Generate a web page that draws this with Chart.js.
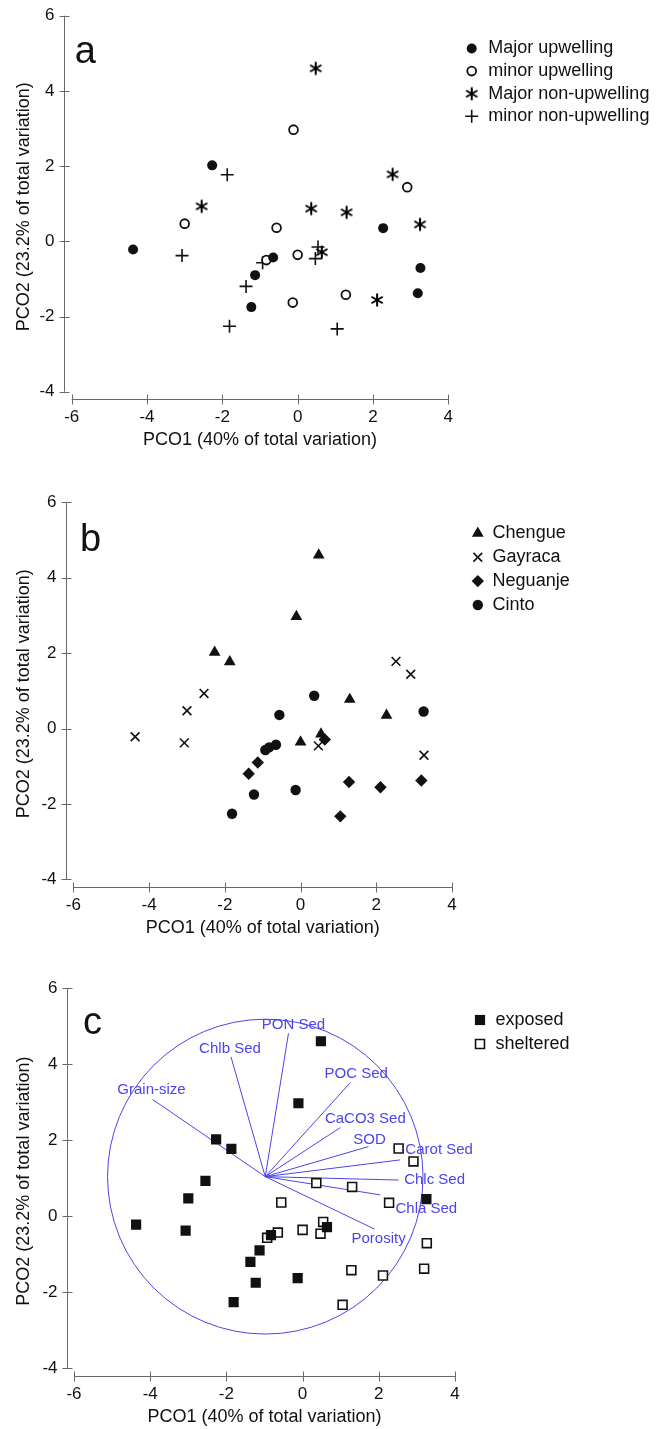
<!DOCTYPE html>
<html>
<head>
<meta charset="utf-8">
<script src="https://cdn.jsdelivr.net/npm/chart.js@4.4.1/dist/chart.umd.min.js"></script>
<style>
  html, body { margin: 0; padding: 0; background: #fff; }
  #page { position: relative; width: 661px; height: 1429px; }
  canvas { position: absolute; left: 0; }
</style>
</head>
<body>
<div id="page">
  <canvas id="panelA" width="661" height="470" style="top:0px"></canvas>
  <canvas id="panelB" width="661" height="490" style="top:470px"></canvas>
  <canvas id="panelC" width="661" height="469" style="top:960px"></canvas>
</div>
<script>
// PCO scores of the 32 samples (same samples in all three panels)
const pco1 = [-4.37, -2.27, -1.13, -1.23, -0.65, 2.27, 3.26, 3.19,
              -0.11, 2.91, -3.00, -0.56, 0.00, -0.83, -0.13, 1.28,
              0.48, 2.52, -2.55, 0.36, 1.30, 3.25, 0.64, 2.11,
              -1.87, -3.07, 0.54, 0.47, -0.93, -1.37, -1.81, 1.05];
const pco2 = [-0.22, 2.02, -0.90, -1.75, -0.43, 0.35, -0.71, -1.38,
              2.97, 1.44, 0.47, 0.36, -0.36, -0.50, -1.63, -1.42,
              4.60, 1.78, 0.93, 0.87, 0.77, 0.45, -0.29, -1.56,
              1.77, -0.38, -0.15, -0.46, -0.57, -1.20, -2.26, -2.33];

const upwellingNames = ["Major upwelling", "minor upwelling", "Major non-upwelling", "minor non-upwelling"];
const upwellingGroup = [0,0,0,0,0,0,0,0, 1,1,1,1,1,1,1,1, 2,2,2,2,2,2,2,2, 3,3,3,3,3,3,3,3];

const siteNames = ["Chengue", "Gayraca", "Neguanje", "Cinto"];
const siteGroup = [1,0,2,3,3,0,1,2, 0,1,1,3,0,3,3,2, 0,1,1,3,0,3,2,2, 0,1,0,1,3,2,3,2];

const exposureNames = ["exposed", "sheltered"];
const exposureGroup = [0,0,0,0,1,1,1,1, 0,1,0,1,1,0,0,1, 0,1,0,1,1,0,0,1, 0,0,1,1,1,0,0,1];

// environmental vectors (panel c)
const vectorNames = ["PON Sed", "Chlb Sed", "Grain-size", "POC Sed", "CaCO3 Sed", "SOD", "Carot Sed", "Chlc Sed", "Chla Sed", "Porosity"];
const vectorX = [-0.37, -1.88, -3.94, 1.25, 0.99, 1.73, 2.56, 2.52, 2.04, 1.89];
const vectorY = [4.81, 4.19, 3.07, 3.51, 2.33, 1.83, 1.48, 0.95, 0.56, -0.34];
const vectorOrigin = [-0.98, 1.04];
const circleRadius = 4.14;

const xTicks = [-6, -4, -2, 0, 2, 4];
const yTicks = [-4, -2, 0, 2, 4, 6];
const xTitle = "PCO1 (40% of total variation)";
const yTitle = "PCO2 (23.2% of total variation)";

// ---- styles ----
const INK = "#111";
const AXIS = "#6a6a6a";
const BLUE = "#4c44ea";
const FONT = '"Liberation Sans", Arial, Helvetica, sans-serif';

// pixel offsets of each vector label's centre from its arrow tip
const labelOffsets = [[5, -8], [-1, -8], [-1, -10], [6, -9], [25, -9], [1, -7], [39, -10], [36, 0], [46, 14], [4, 10]];

function asterisk(r, w) {
  const c = document.createElement("canvas");
  const s = 2 * Math.ceil(r + w);
  c.width = s; c.height = s;
  const g = c.getContext("2d");
  g.strokeStyle = "#000"; g.lineWidth = w;
  [90, 30, 150].forEach(a => {
    const t = a * Math.PI / 180;
    g.beginPath();
    g.moveTo(s / 2 - r * Math.cos(t), s / 2 - r * Math.sin(t));
    g.lineTo(s / 2 + r * Math.cos(t), s / 2 + r * Math.sin(t));
    g.stroke();
  });
  return c;
}

function groupPoints(groups, g) {
  const out = [];
  pco1.forEach((x, i) => { if (groups[i] === g) out.push({ x: x, y: pco2[i] }); });
  return out;
}

function markerSet(label, data, style, radius, fill, border) {
  return {
    label: label, data: data,
    pointStyle: style, pointRadius: radius, pointHoverRadius: radius,
    pointBackgroundColor: fill, pointBorderColor: INK, pointBorderWidth: border,
    order: 0
  };
}

function framePlugin(cfg) {
  return {
    id: "pcoFrame",
    beforeDatasetsDraw(chart) {
      const ctx = chart.ctx, a = chart.chartArea, x = chart.scales.x, y = chart.scales.y;
      ctx.save();
      // offset axes
      const ax = Math.round(a.left - 7.4) + 0.5;
      const ay = Math.round(a.bottom + 7.6) + 0.5;
      ctx.strokeStyle = AXIS; ctx.lineWidth = 1;
      ctx.beginPath();
      ctx.moveTo(ax, y.getPixelForValue(yTicks[yTicks.length - 1]));
      ctx.lineTo(ax, y.getPixelForValue(yTicks[0]));
      yTicks.forEach(v => {
        const p = Math.round(y.getPixelForValue(v)) + 0.5;
        ctx.moveTo(ax - 5, p); ctx.lineTo(ax + 5, p);
      });
      ctx.moveTo(x.getPixelForValue(xTicks[0]), ay);
      ctx.lineTo(x.getPixelForValue(xTicks[xTicks.length - 1]), ay);
      xTicks.forEach(v => {
        const p = Math.round(x.getPixelForValue(v)) + 0.5;
        ctx.moveTo(p, ay - 5); ctx.lineTo(p, ay + 5);
      });
      ctx.stroke();

      ctx.fillStyle = INK;
      ctx.font = "17px " + FONT;
      ctx.textAlign = "right"; ctx.textBaseline = "middle";
      yTicks.forEach(v => ctx.fillText(String(v), ax - 10, y.getPixelForValue(v)));
      ctx.textAlign = "center";
      xTicks.forEach(v => ctx.fillText(String(v), x.getPixelForValue(v), ay + 18));
      ctx.font = "18px " + FONT;
      ctx.fillText(xTitle, (a.left + a.right) / 2, ay + 41);
      ctx.save();
      ctx.translate(24, (a.top + a.bottom) / 2 + 3);
      ctx.rotate(-Math.PI / 2);
      ctx.fillText(yTitle, 0, 0);
      ctx.restore();

      ctx.font = "38px " + FONT;
      ctx.textAlign = "left"; ctx.textBaseline = "alphabetic";
      ctx.fillText(cfg.letter, a.left + cfg.letterDx, a.top + cfg.letterDy);

      if (cfg.vectors) {
        const cx = x.getPixelForValue(vectorOrigin[0]);
        const cy = y.getPixelForValue(vectorOrigin[1]);
        const rx = x.getPixelForValue(vectorOrigin[0] + circleRadius) - cx;
        const ry = cy - y.getPixelForValue(vectorOrigin[1] + circleRadius);
        ctx.strokeStyle = BLUE; ctx.lineWidth = 1;
        ctx.beginPath();
        ctx.ellipse(cx, cy, rx, ry, 0, 0, Math.PI * 2);
        ctx.stroke();
      }
      ctx.restore();
    },
    afterDatasetsDraw(chart) {
      if (!cfg.vectors) return;
      const ctx = chart.ctx, x = chart.scales.x, y = chart.scales.y;
      ctx.save();
      ctx.fillStyle = BLUE;
      ctx.font = "15px " + FONT;
      ctx.textAlign = "center"; ctx.textBaseline = "middle";
      vectorNames.forEach((n, i) => {
        ctx.fillText(n, x.getPixelForValue(vectorX[i]) + labelOffsets[i][0],
                        y.getPixelForValue(vectorY[i]) + labelOffsets[i][1]);
      });
      ctx.restore();
    },
    afterDraw(chart) {
      const ctx = chart.ctx, a = chart.chartArea;
      ctx.save();
      chart.data.datasets.filter(d => !d.showLine).forEach((d, i) => {
        const yy = a.top + cfg.legendDy + i * cfg.legendGap;
        ctx.fillStyle = d.pointBackgroundColor;
        ctx.strokeStyle = d.pointBorderColor;
        ctx.lineWidth = d.pointBorderWidth;
        Chart.helpers.drawPoint(ctx, {
          pointStyle: d.pointStyle, radius: d.pointRadius,
          borderWidth: d.pointBorderWidth, rotation: 0
        }, a.right + cfg.markerDx, yy);
        ctx.fillStyle = INK;
        ctx.font = "18px " + FONT;
        ctx.textAlign = "left"; ctx.textBaseline = "middle";
        ctx.fillText(d.label, a.right + cfg.textDx, yy);
      });
      ctx.restore();
    }
  };
}

function makePanel(id, datasets, padding, cfg) {
  return new Chart(document.getElementById(id), {
    type: "scatter",
    data: { datasets: datasets },
    options: {
      responsive: false,
      animation: false,
      events: [],
      layout: { padding: padding },
      scales: {
        x: { type: "linear", min: xTicks[0], max: xTicks[xTicks.length - 1], display: false },
        y: { type: "linear", min: yTicks[0], max: yTicks[yTicks.length - 1], display: false }
      },
      plugins: { legend: { display: false }, tooltip: { enabled: false } }
    },
    plugins: [framePlugin(cfg)]
  });
}

// panel a: upwelling regime
const upStyles = [
  ["circle", 5, INK, 0],
  ["circle", 4.4, "#fff", 1.8],
  [asterisk(6.5, 2), 6, INK, 0],
  ["cross", 6.5, INK, 1.6]
];
makePanel("panelA",
  upwellingNames.map((n, g) => markerSet(n, groupPoints(upwellingGroup, g), ...upStyles[g])),
  { left: 71.7, right: 212.7, top: 15.7, bottom: 78.3 },
  { letter: "a", letterDx: 3, letterDy: 47.5, legendDy: 32.8, legendGap: 22.6, markerDx: 23.4, textDx: 40 });

// panel b: sites
const siteStyles = [
  ["triangle", 6.8, INK, 0],
  ["crossRot", 6.2, INK, 1.6],
  ["rectRot", 6.2, INK, 0],
  ["circle", 5.2, INK, 0]
];
makePanel("panelB",
  siteNames.map((n, g) => markerSet(n, groupPoints(siteGroup, g), ...siteStyles[g])),
  { left: 73.4, right: 209, top: 32.3, bottom: 80.7 },
  { letter: "b", letterDx: 6.5, letterDy: 49, legendDy: 31, legendGap: 23.9, markerDx: 25.8, textDx: 40.6 });

// panel c: exposure + vectors
const expStyles = [
  ["rect", 7.2, INK, 0],
  ["rect", 6.3, "#fff", 1.6]
];
const vectorSets = vectorNames.map((n, i) => ({
  label: n,
  data: [{ x: vectorOrigin[0], y: vectorOrigin[1] }, { x: vectorX[i], y: vectorY[i] }],
  showLine: true, borderColor: BLUE, borderWidth: 1, pointRadius: 0, order: 5
}));
makePanel("panelC",
  exposureNames.map((n, g) => markerSet(n, groupPoints(exposureGroup, g), ...expStyles[g])).concat(vectorSets),
  { left: 74, right: 206, top: 28, bottom: 60.7 },
  { letter: "c", letterDx: 9, letterDy: 45.5, legendDy: 32, legendGap: 24, markerDx: 25, textDx: 40.5, vectors: true });
</script>
</body>
</html>
